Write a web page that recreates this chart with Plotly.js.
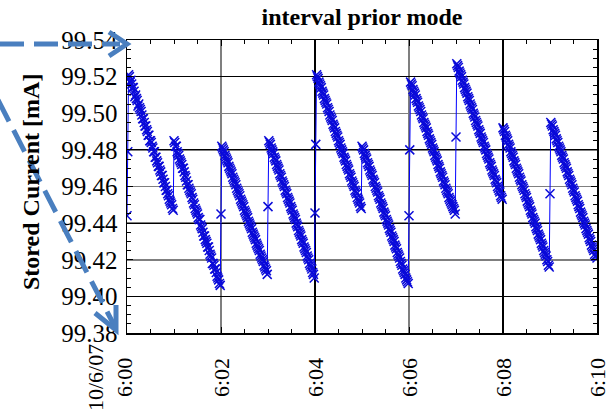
<!DOCTYPE html>
<html><head><meta charset="utf-8">
<script src="https://cdn.plot.ly/plotly-3.0.1.min.js"></script>
<style>html,body{margin:0;padding:0;background:#fff;}#chart{width:613px;height:414px;}</style>
</head><body><div id="chart"></div>
<script>
// ---- data (stored current readings, 1 s logger sampling) ----
const chartTitle = 'interval prior mode';
const yTitle = 'Stored Current [mA]';
const samplePeriodSec = 1;
const segStartSec = [0, 60, 120, 180, 240, 300, 360, 420, 480, 540];
const segA = [99.444,99.479,99.521,99.520,99.517,99.518,99.516,99.514,99.514,99.512,99.509,99.510,99.508,99.507,99.504,99.505,99.503,99.502,99.501,99.499,99.497,99.497,99.495,99.493,99.493,99.491,99.490,99.488,99.488,99.485,99.485,99.484,99.482,99.481,99.479,99.479,99.476,99.476,99.474,99.473,99.471,99.471,99.469,99.468,99.466,99.466,99.464,99.462,99.462,99.460,99.458,99.458,99.456,99.455,99.453,99.452,99.451,99.450,99.448,99.447];
const segB = [99.485,99.484,99.482,99.482,99.479,99.478,99.477,99.475,99.474,99.473,99.472,99.470,99.470,99.468,99.466,99.465,99.463,99.461,99.461,99.459,99.458,99.457,99.456,99.454,99.453,99.451,99.450,99.448,99.447,99.446,99.445,99.443,99.442,99.442,99.439,99.438,99.437,99.435,99.433,99.433,99.431,99.430,99.429,99.427,99.427,99.425,99.423,99.422,99.421,99.418,99.418,99.417,99.415,99.415,99.413,99.411,99.410,99.409,99.407,99.406];
const segC = [99.445,99.482,99.481,99.480,99.479,99.477,99.476,99.475,99.474,99.473,99.471,99.470,99.469,99.468,99.467,99.465,99.464,99.463,99.462,99.461,99.459,99.458,99.457,99.456,99.455,99.453,99.452,99.451,99.450,99.449,99.447,99.446,99.445,99.444,99.443,99.441,99.440,99.439,99.438,99.437,99.435,99.434,99.433,99.432,99.431,99.429,99.428,99.427,99.426,99.425,99.423,99.422,99.421,99.420,99.419,99.417,99.416,99.415,99.414,99.412];
const segD = [99.449,99.485,99.484,99.483,99.481,99.480,99.479,99.478,99.476,99.475,99.474,99.472,99.471,99.470,99.469,99.467,99.466,99.465,99.463,99.462,99.461,99.460,99.458,99.457,99.456,99.454,99.453,99.452,99.451,99.449,99.448,99.447,99.445,99.444,99.443,99.442,99.440,99.439,99.438,99.436,99.435,99.434,99.433,99.431,99.430,99.429,99.427,99.426,99.425,99.424,99.422,99.421,99.420,99.418,99.417,99.416,99.415,99.413,99.412,99.410];
const segE = [99.4455,99.483,99.521,99.520,99.519,99.517,99.516,99.515,99.514,99.512,99.511,99.510,99.508,99.507,99.506,99.505,99.503,99.502,99.501,99.499,99.498,99.497,99.496,99.494,99.493,99.492,99.490,99.489,99.488,99.487,99.485,99.484,99.483,99.481,99.480,99.479,99.478,99.476,99.475,99.474,99.472,99.471,99.470,99.469,99.467,99.466,99.465,99.463,99.462,99.461,99.460,99.458,99.457,99.456,99.454,99.453,99.452,99.451,99.449,99.448];
const segF = [99.482,99.481,99.480,99.478,99.477,99.476,99.475,99.473,99.472,99.471,99.469,99.468,99.467,99.466,99.464,99.463,99.462,99.460,99.459,99.458,99.457,99.455,99.454,99.453,99.451,99.450,99.449,99.448,99.446,99.445,99.444,99.442,99.441,99.440,99.439,99.437,99.436,99.435,99.433,99.432,99.431,99.430,99.428,99.427,99.426,99.424,99.423,99.422,99.421,99.419,99.418,99.417,99.415,99.414,99.413,99.412,99.410,99.409,99.408,99.407];
const segG = [99.444,99.480,99.517,99.516,99.515,99.513,99.512,99.511,99.510,99.508,99.507,99.506,99.504,99.503,99.502,99.501,99.499,99.498,99.497,99.495,99.494,99.493,99.492,99.490,99.489,99.488,99.486,99.485,99.484,99.483,99.481,99.480,99.479,99.477,99.476,99.475,99.474,99.472,99.471,99.470,99.468,99.467,99.466,99.465,99.463,99.462,99.461,99.459,99.458,99.457,99.456,99.454,99.453,99.452,99.451,99.450,99.449,99.448,99.447,99.445];
const segH = [99.487,99.527,99.526,99.525,99.523,99.522,99.521,99.520,99.518,99.517,99.516,99.514,99.513,99.512,99.511,99.509,99.508,99.507,99.505,99.504,99.503,99.502,99.500,99.499,99.498,99.496,99.495,99.494,99.493,99.491,99.490,99.489,99.487,99.486,99.485,99.484,99.482,99.481,99.480,99.478,99.477,99.476,99.475,99.473,99.472,99.471,99.469,99.468,99.467,99.466,99.464,99.463,99.462,99.460,99.459,99.458,99.457,99.455,99.454,99.453];
const segI = [99.492,99.491,99.490,99.488,99.487,99.486,99.485,99.483,99.482,99.481,99.479,99.478,99.477,99.476,99.474,99.473,99.472,99.470,99.469,99.468,99.467,99.465,99.464,99.463,99.461,99.460,99.459,99.458,99.456,99.455,99.454,99.452,99.451,99.450,99.449,99.447,99.446,99.445,99.443,99.442,99.441,99.440,99.438,99.437,99.436,99.434,99.433,99.432,99.431,99.429,99.428,99.427,99.425,99.424,99.423,99.422,99.420,99.419,99.417,99.416];
const segJ = [99.456,99.495,99.494,99.493,99.491,99.490,99.489,99.488,99.486,99.485,99.484,99.482,99.481,99.480,99.479,99.477,99.476,99.475,99.473,99.472,99.471,99.470,99.468,99.467,99.466,99.464,99.463,99.462,99.461,99.459,99.458,99.457,99.455,99.454,99.453,99.452,99.450,99.449,99.448,99.446,99.445,99.444,99.443,99.441,99.440,99.439,99.437,99.436,99.435,99.434,99.432,99.431,99.430,99.428,99.427,99.426,99.425,99.423,99.422,99.422,99.421];
const xRange = ['2007-10-06 06:00:00', '2007-10-06 06:10:00'];
const xTickVals = ['2007-10-06 06:00','2007-10-06 06:02','2007-10-06 06:04','2007-10-06 06:06','2007-10-06 06:08','2007-10-06 06:10'];
const xTickText = ['10/6/07<br>6:00','6:02','6:04','6:06','6:08','6:10'];
const yTickVals = [99.38,99.40,99.42,99.44,99.46,99.48,99.50,99.52,99.54];
const yRange = [99.38, 99.54];

// ---- build series ----
const segs = [segA,segB,segC,segD,segE,segF,segG,segH,segI,segJ];
const t0 = Date.UTC(2007, 9, 6, 6, 0, 0);
const xs = [], ys = [];
segs.forEach((seg, k) => {
  seg.forEach((v, i) => {
    xs.push(t0 + (segStartSec[k] + i * samplePeriodSec) * 1000);
    ys.push(v);
  });
});

// ---- decorations (pixel -> paper helpers) ----
const L = 127, R = 597, T = 40, B = 333;
const px = x => (x - L) / (R - L);
const py = y => (B - y) / (B - T);
const arrowColor = '#4a7fbf';
const serif = 'Liberation Serif, Times New Roman, serif';

const shapes = [
  {type:'line', xref:'paper', yref:'paper', x0:px(0), y0:py(44), x1:px(120), y1:py(44),
   line:{color:arrowColor, width:5, dash:'24px,10px'}, layer:'above'},
  {type:'path', xref:'paper', yref:'paper', layer:'above',
   path:`M ${px(109)} ${py(32)} L ${px(127)} ${py(44)} L ${px(109)} ${py(56)}`,
   line:{color:arrowColor, width:5}},
  {type:'line', xref:'paper', yref:'paper', x0:px(-2), y0:py(100), x1:px(114), y1:py(325),
   line:{color:arrowColor, width:5, dash:'24px,10px'}, layer:'above'},
  {type:'path', xref:'paper', yref:'paper', layer:'above',
   path:`M ${px(95)} ${py(313)} L ${px(116)} ${py(330)} L ${px(116)} ${py(305)}`,
   line:{color:arrowColor, width:5}}
];

const annotations = xTickVals.map((tv, i) => ({
  x: tv, xref:'x', y: py(378), yref:'paper', text: xTickText[i], textangle:-90,
  showarrow:false, xanchor:'center', yanchor:'middle', align:'center',
  xshift: i === 0 ? -17 : 0,
  font:{family:serif, size:22, color:'#000'}
}));
annotations.push({
  x: px(31), xref:'paper', y: py(182), yref:'paper', text: yTitle, textangle:-90,
  showarrow:false, xanchor:'center', yanchor:'middle',
  font:{family:serif, size:24, color:'#000', weight:'bold'}
});

const data = [
  {x: xs, y: ys, type:'scatter', mode:'lines+markers',
   line:{color:'#0000ff', width:1},
   marker:{symbol:'x-thin', size:9, line:{width:1.5, color:'#0a0ad8'}, color:'#0a0ad8'},
   hoverinfo:'skip', showlegend:false},
  {x: [], y: [], xaxis:'x2', yaxis:'y2', type:'scatter', showlegend:false}
];

const axisCommon = {showline:true, linecolor:'#000', linewidth:1.5, mirror:'ticks',
  ticks:'inside', tickcolor:'#000', zeroline:false};

const layout = {
  width:613, height:414,
  margin:{l:L, r:613-R, t:T, b:414-B, pad:0},
  paper_bgcolor:'#fff', plot_bgcolor:'#fff',
  showlegend:false,
  title:{text: chartTitle, x:(L+R)/2/613, xanchor:'center', y:1-17/414, yanchor:'middle',
         yref:'container', font:{family:serif, size:24, color:'#000', weight:'bold'}},
  xaxis: Object.assign({}, axisCommon, {
    type:'date', range:xRange, tickvals:xTickVals, ticktext:xTickText,
    showticklabels:false, ticklen:6, showgrid:true, gridcolor:'#7f7f7f', gridwidth:1.5,
    minor:{dtick:30000, ticks:'inside', ticklen:4, tickcolor:'#000', showgrid:false}
  }),
  yaxis: Object.assign({}, axisCommon, {
    range:yRange, tickvals:yTickVals, tickformat:'.2f', ticklen:6,
    showgrid:true, gridcolor:'#7f7f7f', gridwidth:1.5,
    tickfont:{family:serif, size:25, color:'#000'}, ticklabelstandoff:3,
    minor:{dtick:0.005, tick0:99.38, ticks:'inside', ticklen:4, tickcolor:'#000', showgrid:false}
  }),
  xaxis2: {overlaying:'x', anchor:'y2', type:'date', range:xRange,
    tick0:'2007-10-06 06:00', dtick:240000, showgrid:true, gridcolor:'#000', gridwidth:1.2,
    showticklabels:false, ticks:'', showline:false, zeroline:false},
  yaxis2: {overlaying:'y', anchor:'x2', range:yRange,
    tick0:99.40, dtick:0.04, showgrid:true, gridcolor:'#000', gridwidth:1.2,
    showticklabels:false, ticks:'', showline:false, zeroline:false},
  shapes: shapes,
  annotations: annotations
};

Plotly.newPlot('chart', data, layout, {staticPlot:true, displayModeBar:false});
</script>
</body></html>
